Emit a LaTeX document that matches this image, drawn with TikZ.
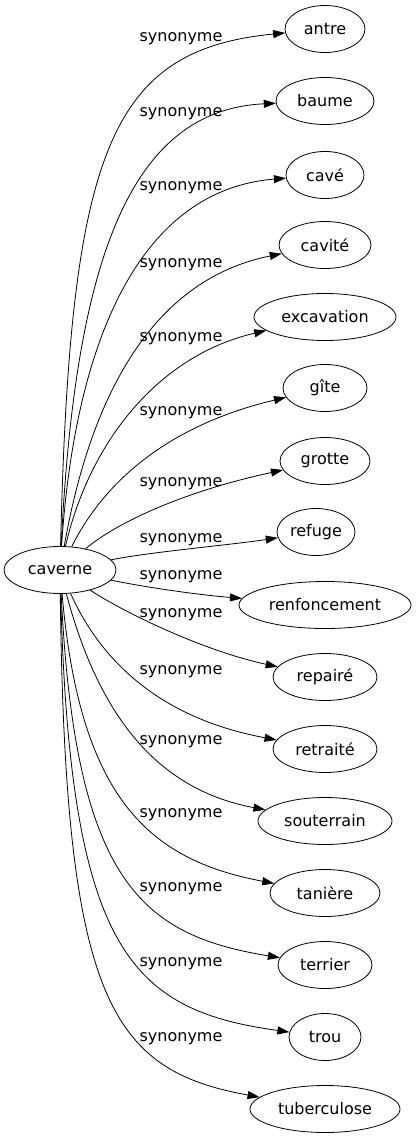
\documentclass[tikz,border=0pt]{standalone}
\usepackage{fontspec}
\setmainfont{DejaVu Sans}
\usetikzlibrary{shapes.geometric,arrows.meta}

\tikzset{
    word/.style={draw, ellipse, inner sep=0pt, minimum height=47pt, line width=0.8pt},
    rel/.style={inner sep=0pt},
    syn/.style={line width=0.8pt, -{Triangle[length=12pt,width=8pt]}},
}

\begin{document}
\begin{tikzpicture}[x=1pt,y=-1pt,font=\fontsize{16}{19}\selectfont]
        \useasboundingbox (0,0) rectangle (416,1139);

        \node[word, minimum width=112pt] (cav) at (60,570) {caverne};

        % words on the right
        \foreach \n/\t/\x/\y/\w in {antre/antre/325/29/80, baume/baume/325/101/98,
            cave/cavé/325/175/78, cavite/cavité/325/245/92,
            excav/excavation/325/317/142, gite/gîte/325/388/84,
            grotte/grotte/325/461/90, refuge/refuge/316/532/78,
            renf/renfoncement/325/605/172, repaire/repairé/325/677/104,
            retraite/retraité/325/749/104, souter/souterrain/325/821/134,
            taniere/tanière/325/893/110, terrier/terrier/325/965/94,
            trou/trou/325/1037/72, tuber/tuberculose/325/1109/150}
            \node[word, minimum width=\w pt] (\n) at (\x,\y) {\t};

        % edges and their labels
        \foreach \n/\ax/\ay/\bx/\by/\ly in {antre/70/150/110/50/39,
            baume/75/260/130/110/114, cave/75/340/140/190/188,
            cavite/90/400/150/280/265, excav/90/440/160/355/339,
            gite/105/480/170/425/413, grotte/120/520/190/490/484,
            refuge/150/552/230/545/540, renf/150/588/200/595/577,
            repaire/120/610/200/650/615, retraite/105/670/170/720/672,
            souter/100/720/160/790/742, taniere/80/800/150/860/815,
            terrier/75/880/140/935/889, trou/70/950/130/1010/964,
            tuber/65/1000/110/1070/1039}
        {
            \draw[syn] (cav) .. controls (\ax,\ay) and (\bx,\by) .. (\n);
            \node[rel] (s-\n) at (181,\ly) {synonyme};
        }
    \end{tikzpicture}
\end{document}
